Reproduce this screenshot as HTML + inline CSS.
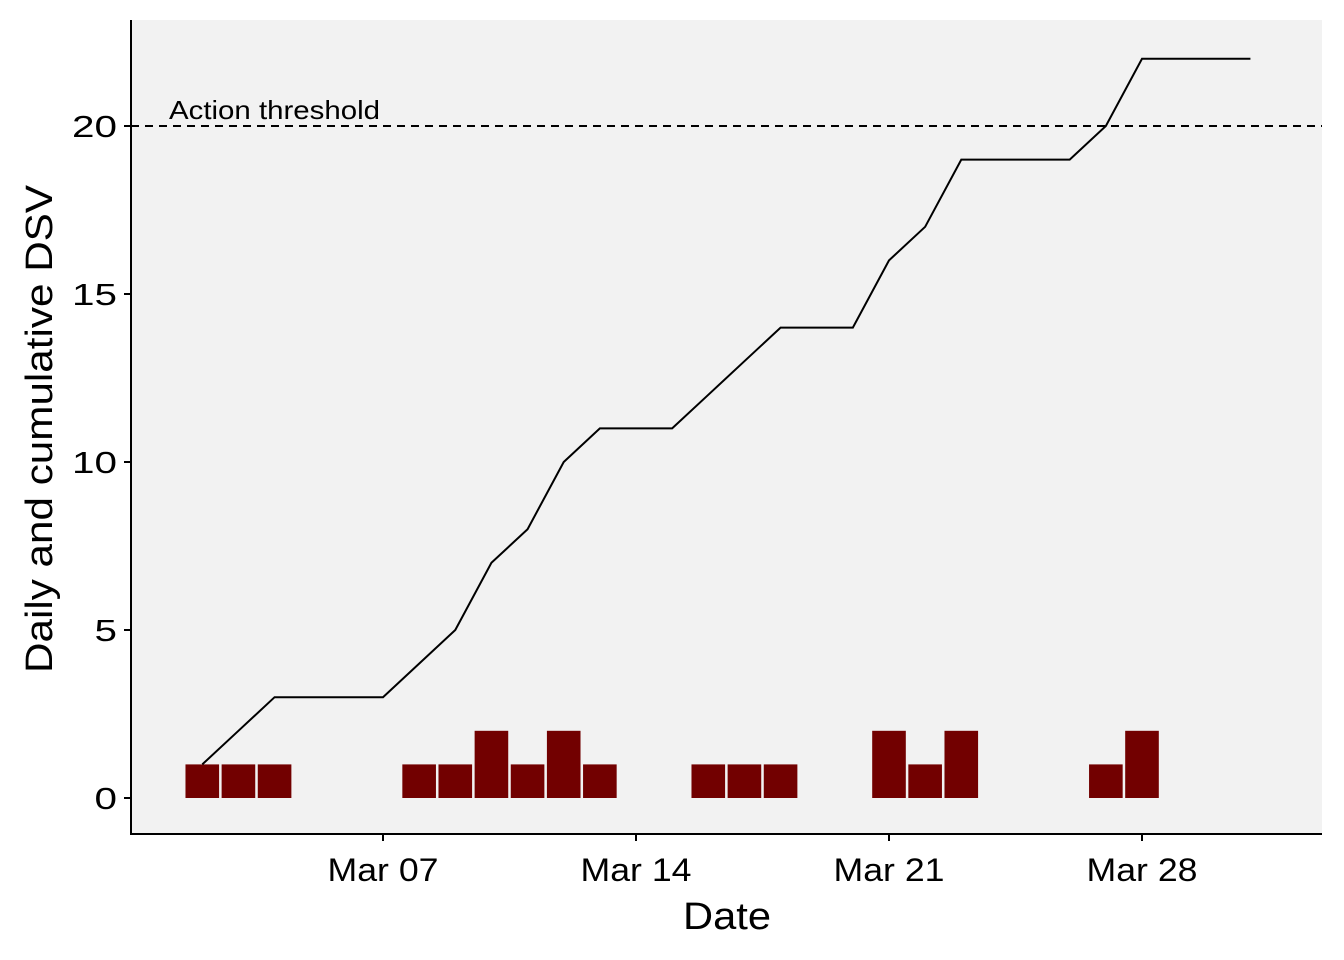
<!DOCTYPE html>
<html><head><meta charset="utf-8"><style>
html,body{margin:0;padding:0;background:#fff;}
svg{display:block;font-family:"Liberation Sans",Arial,sans-serif;}
</style></head><body>
<svg id="chart" width="1344" height="960">
<rect x="131" y="20" width="1191" height="814" fill="#F2F2F2"/>
<g id="bars"></g>
<g id="line"></g>
<g id="axes"></g>
</svg>
<script>
const barDays = [2,3,4,8,9,10,11,12,13,16,17,18,21,22,23,27,28];
const barValues = [1,1,1,1,1,2,1,2,1,1,1,1,2,1,2,1,2];
const lineDays = [2,3,4,7,8,9,10,11,12,13,15,16,17,18,20,21,22,23,26,27,28,31];
const lineValues = [1,2,3,3,4,5,7,8,10,11,11,12,13,14,14,16,17,19,19,20,22,22];
const yTicks = [0,5,10,15,20];
const xTickDays = [7,14,21,28];
const xTickLabels = ["Mar 07","Mar 14","Mar 21","Mar 28"];
const threshold = 20;

const NS="http://www.w3.org/2000/svg";
const dayW = 253/7;
const x = d => 383 + (d-7)*dayW;
const y = v => 798 - v*33.6;
function mk(tag, attrs, parent){const e=document.createElementNS(NS,tag);for(const k in attrs)e.setAttribute(k,attrs[k]);parent.appendChild(e);return e;}
const bars=document.getElementById('bars'), line=document.getElementById('line'), axes=document.getElementById('axes');

barDays.forEach((d,i)=>{
  const w=dayW*0.93;
  const r=mk('rect',{x:x(d)-w/2,y:y(barValues[i]),width:w,height:y(0)-y(barValues[i]),fill:'#720000'},bars);
  
  
});
const p=mk('polyline',{points:lineDays.map((d,i)=>x(d)+','+y(lineValues[i])).join(' '),fill:'none',stroke:'#000','stroke-width':2},line);



const th=mk('line',{x1:131,x2:1322,y1:y(threshold),y2:y(threshold),stroke:'#000','stroke-width':2,'stroke-dasharray':'8,6'},line);


const tt=mk('text',{x:169,y:y(threshold)-7,'font-size':26,fill:'#000',textLength:211,lengthAdjust:'spacingAndGlyphs'},line);
tt.textContent='Action threshold';



const ya=mk('line',{x1:131,x2:131,y1:20,y2:834,stroke:'#000','stroke-width':2},axes);


const xa=mk('line',{x1:130,x2:1322,y1:834,y2:834,stroke:'#000','stroke-width':2},axes);



yTicks.forEach(v=>{
  mk('line',{x1:124,x2:131,y1:y(v),y2:y(v),stroke:'#000','stroke-width':2},axes);
  const s=String(v);
  const t=mk('text',{x:117,y:y(v)+11,'font-size':31,'text-anchor':'end',fill:'#000',textLength:s.length*22.5,lengthAdjust:'spacingAndGlyphs'},axes);
  t.textContent=s;
  
  
});
xTickDays.forEach((d,i)=>{
  mk('line',{x1:x(d),x2:x(d),y1:834,y2:841,stroke:'#000','stroke-width':2},axes);
  const t=mk('text',{x:x(d),y:881,'font-size':32,'text-anchor':'middle',fill:'#000',textLength:111,lengthAdjust:'spacingAndGlyphs'},axes);
  t.textContent=xTickLabels[i];
  
  
});
const xt=mk('text',{x:727,y:929,'font-size':38,'text-anchor':'middle',fill:'#000',textLength:88,lengthAdjust:'spacingAndGlyphs'},axes);
xt.textContent='Date';


const yt=mk('text',{x:0,y:0,'font-size':38,'text-anchor':'middle',fill:'#000',textLength:488,lengthAdjust:'spacingAndGlyphs',transform:'translate(52,429) rotate(-90)'},axes);
yt.textContent='Daily and cumulative DSV';


</script>
</body></html>
